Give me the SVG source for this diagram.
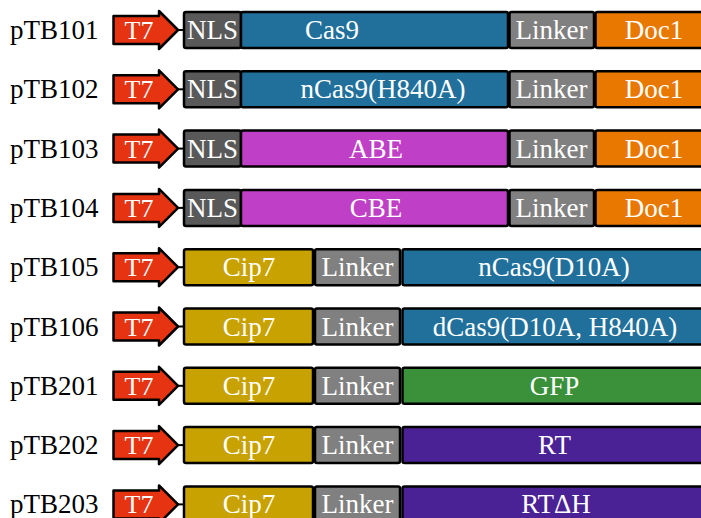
<svg xmlns="http://www.w3.org/2000/svg" width="701" height="518" viewBox="0 0 701 518">
<style>
  .lbl { font-family: "Liberation Serif", "Times New Roman", serif; font-size: 27px; fill: #000; }
  .txt { font-family: "Liberation Serif", "Times New Roman", serif; font-size: 27px; fill: #fff; text-anchor: middle; }
  .t7txt { font-family: "Liberation Serif", "Times New Roman", serif; font-size: 26px; fill: #fff; text-anchor: middle; }
  .box { stroke: #000; stroke-width: 2.5; stroke-linejoin: round; }
  .t7 { fill: #E63312; stroke: #000; stroke-width: 2.5; stroke-linejoin: round; }
  .nls { fill: #595959; }
  .cas { fill: #21709B; }
  .lnk { fill: #808080; }
  .doc { fill: #E97800; }
  .be { fill: #BF3FC6; }
  .cip { fill: #C8A200; }
  .gfp { fill: #3A913A; }
  .rt { fill: #4B2296; }
  .conn { stroke: #000; stroke-width: 2; fill: none; }
</style>
<defs>
  <path id="arrow" class="t7" d="M113.5,16 H159 V11 L178,30 L159,49 V44 H113.5 Z"/>
</defs>
<rect width="701" height="518" fill="#fff"/>

<g id="connectors">
  <line class="conn" x1="178" y1="30" x2="184" y2="30"/>
  <line class="conn" x1="178" y1="89.3" x2="184" y2="89.3"/>
  <line class="conn" x1="178" y1="148.6" x2="184" y2="148.6"/>
  <line class="conn" x1="178" y1="207.9" x2="184" y2="207.9"/>
  <line class="conn" x1="178" y1="267.2" x2="184" y2="267.2"/>
  <line class="conn" x1="178" y1="326.5" x2="184" y2="326.5"/>
  <line class="conn" x1="178" y1="385.8" x2="184" y2="385.8"/>
  <line class="conn" x1="178" y1="445.1" x2="184" y2="445.1"/>
  <line class="conn" x1="178" y1="504.4" x2="184" y2="504.4"/>
</g>

<g id="pTB101">
  <text class="lbl" x="10" y="39">pTB101</text>
  <g id="pTB101-T7"><use href="#arrow"/><text class="t7txt" x="139" y="39">T7</text></g>
  <g id="pTB101-NLS"><rect class="box nls" x="184" y="12" width="57" height="36" rx="2"/><text class="txt" x="212.5" y="39">NLS</text></g>
  <g id="pTB101-Cas9"><rect class="box cas" x="241" y="12" width="267" height="36" rx="2"/><text class="txt" x="332" y="39">Cas9</text></g>
  <g id="pTB101-Linker"><rect class="box lnk" x="509.5" y="12" width="84.5" height="36" rx="2"/><text class="txt" x="551.5" y="39">Linker</text></g>
  <g id="pTB101-Doc1"><rect class="box doc" x="595.5" y="12" width="120" height="36" rx="2"/><text class="txt" x="654" y="39">Doc1</text></g>
</g>

<g id="pTB102" transform="translate(0,59.3)">
  <text class="lbl" x="10" y="39">pTB102</text>
  <g id="pTB102-T7"><use href="#arrow"/><text class="t7txt" x="139" y="39">T7</text></g>
  <g id="pTB102-NLS"><rect class="box nls" x="184" y="12" width="57" height="36" rx="2"/><text class="txt" x="212.5" y="39">NLS</text></g>
  <g id="pTB102-nCas9"><rect class="box cas" x="241" y="12" width="267" height="36" rx="2"/><text class="txt" x="383" y="39">nCas9(H840A)</text></g>
  <g id="pTB102-Linker"><rect class="box lnk" x="509.5" y="12" width="84.5" height="36" rx="2"/><text class="txt" x="551.5" y="39">Linker</text></g>
  <g id="pTB102-Doc1"><rect class="box doc" x="595.5" y="12" width="120" height="36" rx="2"/><text class="txt" x="654" y="39">Doc1</text></g>
</g>

<g id="pTB103" transform="translate(0,118.6)">
  <text class="lbl" x="10" y="39">pTB103</text>
  <g id="pTB103-T7"><use href="#arrow"/><text class="t7txt" x="139" y="39">T7</text></g>
  <g id="pTB103-NLS"><rect class="box nls" x="184" y="12" width="57" height="36" rx="2"/><text class="txt" x="212.5" y="39">NLS</text></g>
  <g id="pTB103-ABE"><rect class="box be" x="241" y="12" width="267" height="36" rx="2"/><text class="txt" x="376" y="39">ABE</text></g>
  <g id="pTB103-Linker"><rect class="box lnk" x="509.5" y="12" width="84.5" height="36" rx="2"/><text class="txt" x="551.5" y="39">Linker</text></g>
  <g id="pTB103-Doc1"><rect class="box doc" x="595.5" y="12" width="120" height="36" rx="2"/><text class="txt" x="654" y="39">Doc1</text></g>
</g>

<g id="pTB104" transform="translate(0,177.9)">
  <text class="lbl" x="10" y="39">pTB104</text>
  <g id="pTB104-T7"><use href="#arrow"/><text class="t7txt" x="139" y="39">T7</text></g>
  <g id="pTB104-NLS"><rect class="box nls" x="184" y="12" width="57" height="36" rx="2"/><text class="txt" x="212.5" y="39">NLS</text></g>
  <g id="pTB104-CBE"><rect class="box be" x="241" y="12" width="267" height="36" rx="2"/><text class="txt" x="376" y="39">CBE</text></g>
  <g id="pTB104-Linker"><rect class="box lnk" x="509.5" y="12" width="84.5" height="36" rx="2"/><text class="txt" x="551.5" y="39">Linker</text></g>
  <g id="pTB104-Doc1"><rect class="box doc" x="595.5" y="12" width="120" height="36" rx="2"/><text class="txt" x="654" y="39">Doc1</text></g>
</g>

<g id="pTB105" transform="translate(0,237.2)">
  <text class="lbl" x="10" y="39">pTB105</text>
  <g id="pTB105-T7"><use href="#arrow"/><text class="t7txt" x="139" y="39">T7</text></g>
  <g id="pTB105-Cip7"><rect class="box cip" x="184" y="12" width="129" height="36" rx="2"/><text class="txt" x="249" y="39">Cip7</text></g>
  <g id="pTB105-Linker"><rect class="box lnk" x="315" y="12" width="85" height="36" rx="2"/><text class="txt" x="357.5" y="39">Linker</text></g>
  <g id="pTB105-nCas9"><rect class="box cas" x="402.5" y="12" width="305" height="36" rx="2"/><text class="txt" x="554" y="39">nCas9(D10A)</text></g>
</g>

<g id="pTB106" transform="translate(0,296.5)">
  <text class="lbl" x="10" y="39">pTB106</text>
  <g id="pTB106-T7"><use href="#arrow"/><text class="t7txt" x="139" y="39">T7</text></g>
  <g id="pTB106-Cip7"><rect class="box cip" x="184" y="12" width="129" height="36" rx="2"/><text class="txt" x="249" y="39">Cip7</text></g>
  <g id="pTB106-Linker"><rect class="box lnk" x="315" y="12" width="85" height="36" rx="2"/><text class="txt" x="357.5" y="39">Linker</text></g>
  <g id="pTB106-dCas9"><rect class="box cas" x="402.5" y="12" width="305" height="36" rx="2"/><text class="txt" x="555" y="39">dCas9(D10A, H840A)</text></g>
</g>

<g id="pTB201" transform="translate(0,355.8)">
  <text class="lbl" x="10" y="39">pTB201</text>
  <g id="pTB201-T7"><use href="#arrow"/><text class="t7txt" x="139" y="39">T7</text></g>
  <g id="pTB201-Cip7"><rect class="box cip" x="184" y="12" width="129" height="36" rx="2"/><text class="txt" x="249" y="39">Cip7</text></g>
  <g id="pTB201-Linker"><rect class="box lnk" x="315" y="12" width="85" height="36" rx="2"/><text class="txt" x="357.5" y="39">Linker</text></g>
  <g id="pTB201-GFP"><rect class="box gfp" x="402.5" y="12" width="305" height="36" rx="2"/><text class="txt" x="554.5" y="39">GFP</text></g>
</g>

<g id="pTB202" transform="translate(0,415.1)">
  <text class="lbl" x="10" y="39">pTB202</text>
  <g id="pTB202-T7"><use href="#arrow"/><text class="t7txt" x="139" y="39">T7</text></g>
  <g id="pTB202-Cip7"><rect class="box cip" x="184" y="12" width="129" height="36" rx="2"/><text class="txt" x="249" y="39">Cip7</text></g>
  <g id="pTB202-Linker"><rect class="box lnk" x="315" y="12" width="85" height="36" rx="2"/><text class="txt" x="357.5" y="39">Linker</text></g>
  <g id="pTB202-RT"><rect class="box rt" x="402.5" y="12" width="305" height="36" rx="2"/><text class="txt" x="554.5" y="39">RT</text></g>
</g>

<g id="pTB203" transform="translate(0,474.4)">
  <text class="lbl" x="10" y="39">pTB203</text>
  <g id="pTB203-T7"><use href="#arrow"/><text class="t7txt" x="139" y="39">T7</text></g>
  <g id="pTB203-Cip7"><rect class="box cip" x="184" y="12" width="129" height="36" rx="2"/><text class="txt" x="249" y="39">Cip7</text></g>
  <g id="pTB203-Linker"><rect class="box lnk" x="315" y="12" width="85" height="36" rx="2"/><text class="txt" x="357.5" y="39">Linker</text></g>
  <g id="pTB203-RTdH"><rect class="box rt" x="402.5" y="12" width="305" height="36" rx="2"/><text class="txt" x="556" y="39">RTΔH</text></g>
</g>
</svg>
